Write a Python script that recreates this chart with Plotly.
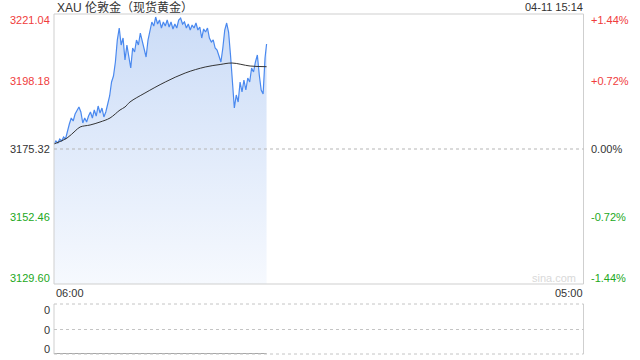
import plotly.graph_objects as go

# ---------------- data ----------------
title_text = "XAU 伦敦金（现货黄金）"
stamp_text = "04-11 15:14"
prev_close = 3175.32
price_levels = [3221.04, 3198.18, 3175.32, 3152.46, 3129.60]
pct_labels = ["+1.44%", "+0.72%", "0.00%", "-0.72%", "-1.44%"]
x_labels = ["06:00", "05:00"]
session_minutes = 1380  # 06:00 -> next day 05:00

# minutes after 06:00
price_minutes = list(range(0, 551, 5)) + [554]
prices = [
    3177.01, 3178.03, 3177.35, 3178.70, 3178.03, 3179.38, 3178.70, 3181.75, 3183.79, 3185.82,
    3184.80, 3187.17, 3188.53, 3189.54, 3187.85, 3184.12, 3185.82, 3184.46, 3186.49, 3187.85,
    3185.82, 3188.53, 3186.49, 3189.88, 3187.51, 3189.20, 3186.16, 3187.85, 3190.56, 3193.27,
    3198.01, 3200.04, 3204.78, 3212.23, 3216.30, 3210.54, 3212.91, 3205.46, 3210.54, 3207.15,
    3202.75, 3209.52, 3208.17, 3212.23, 3210.54, 3214.60, 3211.56, 3208.85, 3206.48, 3212.23,
    3215.62, 3218.33, 3216.97, 3220.02, 3217.65, 3219.01, 3216.30, 3218.33, 3216.97, 3219.01,
    3216.64, 3218.33, 3215.96, 3217.65, 3216.30, 3219.01, 3219.68, 3217.65, 3218.33, 3216.30,
    3217.65, 3215.62, 3217.31, 3216.30, 3217.99, 3215.62, 3216.64, 3212.91, 3215.96, 3214.94,
    3216.30, 3212.91, 3211.56, 3212.23, 3209.52, 3208.85, 3206.81, 3204.78, 3209.52, 3215.62,
    3217.99, 3214.94, 3207.15, 3196.99, 3189.20, 3193.61, 3191.24, 3198.01, 3194.62, 3198.69,
    3195.30, 3199.36, 3198.01, 3202.75, 3201.40, 3204.78, 3207.15, 3200.38, 3195.30, 3193.95,
    3206.14, 3210.88,
]

avg_minutes = [0, 34, 55, 68, 94, 120, 146, 172, 185, 198, 237, 290, 342, 394, 433, 464, 511, 554]
avg_prices = [3177.01, 3179.04, 3181.41, 3182.77, 3183.45, 3184.46, 3185.82, 3188.53, 3189.54,
              3191.24, 3194.28, 3198.01, 3201.06, 3203.09, 3203.94, 3204.44, 3203.43, 3203.19]

volume_minutes = [0, 554]
volumes = [0, 0]
volume_labels = ["0", "0", "0"]

# ---------------- styles ----------------
W, H = 640, 360
FONT = "Arial, 'Liberation Sans', 'Noto Sans CJK SC', sans-serif"
RED = "#f03c3c"
GREEN = "#22a822"
DARK = "#333333"
BORDER = "#cfcfcf"


def px(x):
    return x / W


def py(y):
    return 1 - y / H


main_x = [px(54), px(583.5)]
main_y = [py(284), py(14)]
vol_y = [py(354), py(304)]

fig = go.Figure()

fig.add_trace(go.Scatter(
    x=price_minutes, y=prices, mode="lines",
    line=dict(color="#4a89ef", width=1.2),
    fill="tozeroy",
    fillgradient=dict(type="vertical", start=price_levels[-1], stop=price_levels[0],
                      colorscale=[[0, "rgb(246,249,254)"], [1, "rgb(203,220,247)"]]),
    hoverinfo="skip", xaxis="x", yaxis="y",
))
fig.add_trace(go.Scatter(
    x=avg_minutes, y=avg_prices, mode="lines", line=dict(color="#333333", width=1, shape="spline"),
    hoverinfo="skip", xaxis="x", yaxis="y",
))
fig.add_trace(go.Scatter(
    x=volume_minutes, y=volumes, mode="lines", line=dict(color="#8a8a8a", width=1.5),
    hoverinfo="skip", xaxis="x2", yaxis="y2", cliponaxis=False,
))

axis_common = dict(showgrid=False, zeroline=False, showticklabels=False, showline=False, ticks="")
fig.update_layout(
    width=W, height=H, autosize=False,
    margin=dict(l=0, r=0, t=0, b=0, pad=0),
    paper_bgcolor="white", plot_bgcolor="white",
    showlegend=False,
    font=dict(family=FONT, size=11, color=DARK),
    xaxis=dict(domain=main_x, range=[0, session_minutes], **axis_common),
    yaxis=dict(domain=main_y, range=[price_levels[-1], price_levels[0]], **axis_common),
    xaxis2=dict(domain=main_x, range=[0, session_minutes], anchor="y2", **axis_common),
    yaxis2=dict(domain=vol_y, range=[0, 2], anchor="x2", **axis_common),
)

shapes = []
# main frame
for (x0, y0, x1, y1) in [(54, 14, 583.5, 14), (54, 284, 583.5, 284), (54, 14, 54, 284), (583.5, 14, 583.5, 284)]:
    shapes.append(dict(type="line", xref="paper", yref="paper", x0=px(x0), y0=py(y0), x1=px(x1), y1=py(y1),
                       line=dict(color=BORDER, width=1)))
# prev close dotted line
shapes.append(dict(type="line", xref="paper", yref="y", x0=main_x[0], x1=main_x[1], y0=prev_close, y1=prev_close,
                   line=dict(color="#b5b5b5", width=1, dash="dot")))
# volume frame
for (x0, x1) in [(54, 54), (583.5, 583.5)]:
    shapes.append(dict(type="line", xref="paper", yref="paper", x0=px(x0), y0=py(304), x1=px(x1), y1=py(354),
                       line=dict(color=BORDER, width=1)))
for yy in [304, 329.5, 354]:
    shapes.append(dict(type="line", xref="paper", yref="paper", x0=px(54), y0=py(yy), x1=px(583.5), y1=py(yy),
                       line=dict(color="#c4c4c4", width=1, dash="dot")))
fig.update_layout(shapes=shapes)

ann = []
colors = [RED, RED, DARK, GREEN, GREEN]
shifts = [-6, 0, 0, 0, 6]
for lv, pl, c, s in zip(price_levels, pct_labels, colors, shifts):
    ann.append(dict(text=f"{lv:.2f}", xref="paper", yref="y", x=px(52), y=lv, yshift=s,
                    xanchor="right", yanchor="middle", showarrow=False, font=dict(color=c, size=11)))
    ann.append(dict(text=pl, xref="paper", yref="y", x=px(589), y=lv, yshift=s,
                    xanchor="left", yanchor="middle", showarrow=False, font=dict(color=c, size=11)))
ann.append(dict(text=title_text, xref="paper", yref="paper", x=px(55), y=py(7), xanchor="left", yanchor="middle",
                showarrow=False, font=dict(color=DARK, size=12)))
ann.append(dict(text=stamp_text, xref="paper", yref="paper", x=px(585), y=py(7), xanchor="right", yanchor="middle",
                showarrow=False, font=dict(color=DARK, size=11)))
ann.append(dict(text=x_labels[0], xref="paper", yref="paper", x=px(54), y=py(293), xanchor="left", yanchor="middle",
                showarrow=False, font=dict(color=DARK, size=11)))
ann.append(dict(text=x_labels[1], xref="paper", yref="paper", x=px(585), y=py(293), xanchor="right", yanchor="middle",
                showarrow=False, font=dict(color=DARK, size=11)))
ann.append(dict(text="sina.com", xref="paper", yref="paper", x=px(578), y=py(278), xanchor="right", yanchor="middle",
                showarrow=False, font=dict(color="#d9d9d9", size=11)))
for lab, yy in zip(volume_labels, [310, 330, 349]):
    ann.append(dict(text=lab, xref="paper", yref="paper", x=px(52), y=py(yy), xanchor="right", yanchor="middle",
                    showarrow=False, font=dict(color=DARK, size=11)))
fig.update_layout(annotations=ann)

fig.write_html("out.html", config={"displayModeBar": False})
